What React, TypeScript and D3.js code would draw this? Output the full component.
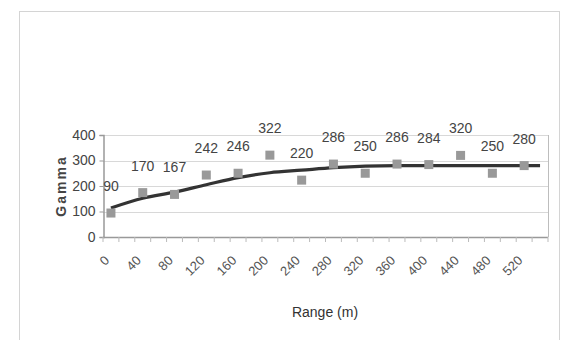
import React, { useEffect, useRef } from "react";
import * as d3 from "d3";

// range categories every 20 m (ticks), labels every 40 m
const categories = d3.range(0, 560, 20).map(String);
const tickLabels = ["0", "40", "80", "120", "160", "200", "240", "280", "320", "360", "400", "440", "480", "520"];
const pointRanges = ["0", "40", "80", "120", "160", "200", "240", "280", "320", "360", "400", "440", "480", "520"];
const pointValues = [94, 174, 167, 243, 250, 321, 223, 286, 250, 286, 284, 320, 250, 280];
const pointLabels = ["90", "170", "167", "242", "246", "322", "220", "286", "250", "286", "284", "320", "250", "280"];
const modelRanges = ["0", "40", "80", "120", "160", "200", "240", "280", "320", "360", "400", "440", "480", "520", "540"];
const modelValues = [114, 152, 176, 205, 233, 252, 262, 272, 278, 280, 280, 280, 280, 280, 280];
const yTicks = [0, 100, 200, 300, 400];

const FONT = "'Liberation Sans', Arial, sans-serif";

const App = () => {
  const svgRef = useRef<SVGSVGElement>(null);

  useEffect(() => {
    const svg = d3.select(svgRef.current);
    svg.selectAll("*").remove();
    const left = 103, right = 548, top = 135, bottom = 237;

    const x = d3.scaleBand().domain(categories).range([left, right]);
    const y = d3.scaleLinear().domain([0, 400]).range([bottom, top]);
    const cx = (c: string) => (x(c) as number) + x.bandwidth() / 2;

    // outer frame
    svg.append("rect")
      .attr("x", 19.5).attr("y", 11.5).attr("width", 540).attr("height", 340)
      .attr("fill", "#fff").attr("stroke", "#d4d4d4");

    // gridlines
    svg.append("g").selectAll("line").data(yTicks.slice(1)).join("line")
      .attr("x1", left).attr("x2", right)
      .attr("y1", (d) => Math.round(y(d)) + 0.5).attr("y2", (d) => Math.round(y(d)) + 0.5)
      .attr("stroke", "#d8d8d8");
    // right border
    svg.append("line").attr("x1", right + 0.5).attr("x2", right + 0.5)
      .attr("y1", top).attr("y2", bottom).attr("stroke", "#bdbdbd");

    // y axis
    const ya = svg.append("g").attr("transform", `translate(${left + 0.5},0)`)
      .call(d3.axisLeft(y).tickValues(yTicks).tickSize(4).tickPadding(4));
    ya.select(".domain").attr("stroke", "#999").attr("stroke-width", 1.5);
    ya.selectAll(".tick line").attr("stroke", "#999");
    ya.selectAll(".tick text").attr("font-family", FONT).attr("font-size", 14).attr("fill", "#444");

    // x axis
    svg.append("line").attr("x1", left).attr("x2", right)
      .attr("y1", bottom + 0.5).attr("y2", bottom + 0.5)
      .attr("stroke", "#999").attr("stroke-width", 1.5);
    svg.append("g").selectAll("line").data(categories.concat(["end"])).join("line")
      .attr("x1", (d, i) => left + i * x.bandwidth()).attr("x2", (d, i) => left + i * x.bandwidth())
      .attr("y1", bottom).attr("y2", bottom + 5).attr("stroke", "#bbb");
    svg.append("g").selectAll("text").data(tickLabels).join("text")
      .attr("transform", (d) => `translate(${cx(d) - 4},${bottom + 21}) rotate(-45)`)
      .attr("text-anchor", "end").attr("dy", "0.35em")
      .attr("font-family", FONT).attr("font-size", 13).attr("fill", "#555")
      .text((d) => d);

    // model line
    const line = d3.line<number>()
      .x((d, i) => cx(modelRanges[i]))
      .y((d) => y(d))
      .curve(d3.curveMonotoneX);
    svg.append("path").datum(modelValues).attr("d", line)
      .attr("fill", "none").attr("stroke", "#333").attr("stroke-width", 3.2);

    // points
    svg.append("g").selectAll("rect").data(pointValues).join("rect")
      .attr("x", (d, i) => cx(pointRanges[i]) - 4.5).attr("y", (d) => y(d) - 4.5)
      .attr("width", 9).attr("height", 9).attr("fill", "#999");
    svg.append("g").selectAll("text").data(pointValues).join("text")
      .attr("x", (d, i) => cx(pointRanges[i]))
      .attr("y", (d) => y(d) - 22)
      .attr("text-anchor", "middle")
      .attr("font-family", FONT).attr("font-size", 14).attr("fill", "#444")
      .text((d, i) => pointLabels[i]);

    // axis titles
    svg.append("text")
      .attr("transform", `translate(66,186) rotate(-90)`)
      .attr("text-anchor", "middle")
      .attr("font-family", FONT).attr("font-size", 14).attr("font-weight", "bold")
      .attr("letter-spacing", 2).attr("fill", "#444")
      .text("Gamma");
    svg.append("text")
      .attr("x", 325).attr("y", 317)
      .attr("text-anchor", "middle")
      .attr("font-family", FONT).attr("font-size", 14).attr("fill", "#333")
      .text("Range (m)");
  }, []);

  return (
    <svg ref={svgRef} width={563} height={340}
      style={{ position: "absolute", left: 0, top: 0, background: "#fff" }} />
  );
};

export default App;
